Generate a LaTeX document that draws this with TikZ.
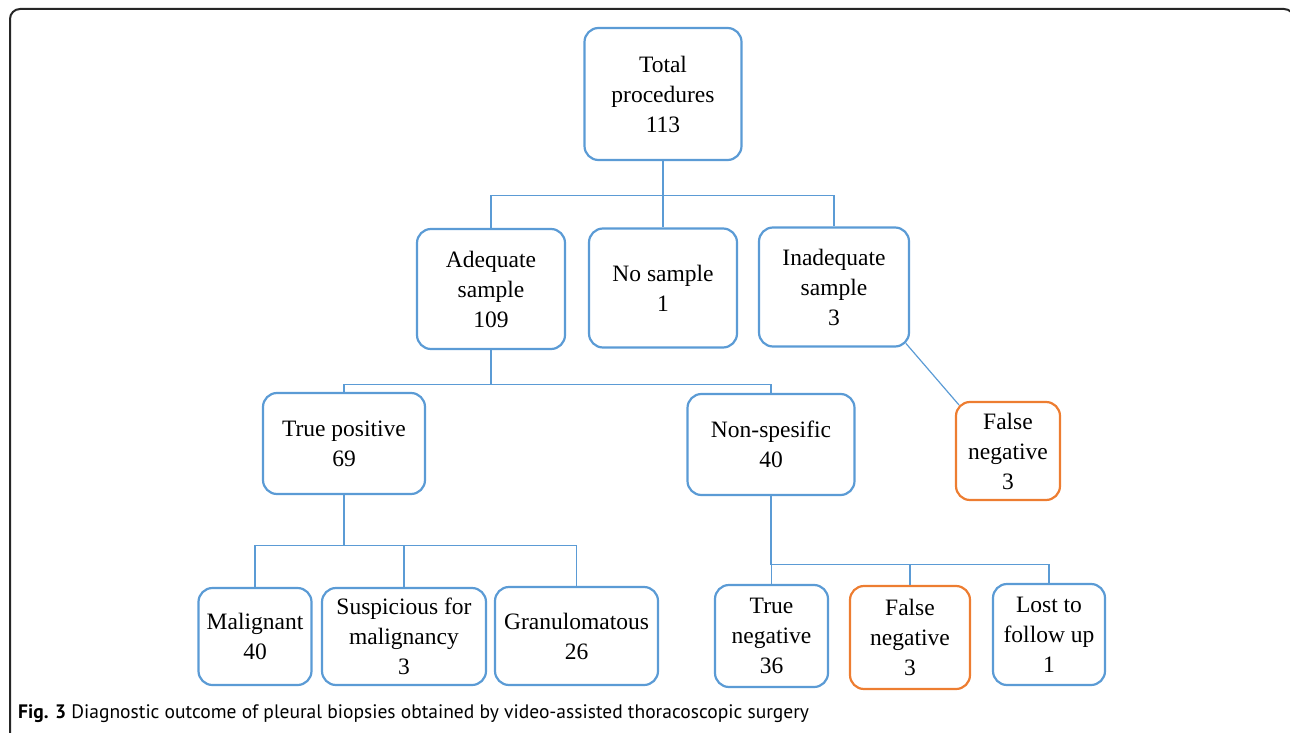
\documentclass[tikz,border=0pt]{standalone}
\usepackage{fontspec}
\usetikzlibrary{calc}
\setmainfont{Liberation Serif}
\newfontfamily\capfont{PT Sans}
\definecolor{boxblue}{RGB}{91,155,213}
\definecolor{boxorange}{RGB}{237,125,49}
\begin{document}
\begin{tikzpicture}[x=1pt,y=-1pt]
			\tikzstyle{every node}+=[inner sep=0pt]
			\tikzstyle{box}=[draw=boxblue,line width=2.2pt,rounded corners=14pt,align=center,font=\fontsize{23.5}{30}\selectfont]
			\tikzstyle{fnbox}=[box,draw=boxorange]
			\tikzstyle{link}=[draw=boxblue,line width=1.2pt]
			\useasboundingbox (0,0) rectangle (1290,733);
			\draw [black!85,line width=2pt,rounded corners=10pt] (10,9) rectangle (1294,770);
			\node [box,minimum width=157pt,minimum height=132pt] (total) at (663,94) {Total\\procedures\\113};
			\node [box,minimum width=148pt,minimum height=120pt] (adequate) at (491,289) {Adequate\\sample\\109};
			\node [box,minimum width=148pt,minimum height=119pt] (nosample) at (663,288) {No sample\\1};
			\node [box,minimum width=150pt,minimum height=119pt] (inadequate) at (834,287) {Inadequate\\sample\\3};
			\node [box,minimum width=162pt,minimum height=101pt] (truepos) at (344,443.5) {True positive\\69};
			\node [box,minimum width=167pt,minimum height=101pt] (nonspec) at (771,444.5) {Non-spesific\\40};
			\node [fnbox,minimum width=104pt,minimum height=98pt] (falseneg1) at (1008,451) {False\\negative\\3};
			\node [box,minimum width=113pt,minimum height=97pt] (malignant) at (255,636.5) {Malignant\\40};
			\node [box,minimum width=164pt,minimum height=97pt] (suspicious) at (404,636.5) {Suspicious for\\malignancy\\3};
			\node [box,minimum width=163pt,minimum height=98pt] (granulom) at (576.5,636) {Granulomatous\\26};
			\node [box,minimum width=113pt,minimum height=102pt] (trueneg) at (771.5,636) {True\\negative\\36};
			\node [fnbox,minimum width=120pt,minimum height=103pt] (falseneg2) at (910,637.5) {False\\negative\\3};
			\node [box,minimum width=112pt,minimum height=101pt] (lost) at (1049,634.5) {Lost to\\follow up\\1};
			\draw [link] (total.south) -- ++(0,34) -| (adequate.north);
			\draw [link] (total.south) -- ++(0,34) -| (inadequate.north);
			\draw [link] (total.south) -- (nosample.north);
			\draw [link] (adequate.south) -- ++(0,34) -| (truepos.north);
			\draw [link] (adequate.south) -- ++(0,34) -| (nonspec.north);
			\draw [link] ($(inadequate.south east)+(-4.1,-4.1)$) -- ($(falseneg1.north west)+(4.1,4.1)$);
			\draw [link] (truepos.south) -- ++(0,50) -| (malignant.north);
			\draw [link] (truepos.south) -- ++(0,50) -| (suspicious.north);
			\draw [link] (truepos.south) -- ++(0,50) -| (granulom.north);
			\draw [link] (nonspec.south) -- ++(0,68) -| (trueneg.north);
			\draw [link] (nonspec.south) -- ++(0,68) -| (falseneg2.north);
			\draw [link] (nonspec.south) -- ++(0,68) -| (lost.north);
			\node [anchor=base west,font=\capfont\fontsize{19.5}{22}\selectfont] (caption) at (18,718) {\textbf{Fig. 3} Diagnostic outcome of pleural biopsies obtained by video-assisted thoracoscopic surgery};
\end{tikzpicture}
\end{document}
